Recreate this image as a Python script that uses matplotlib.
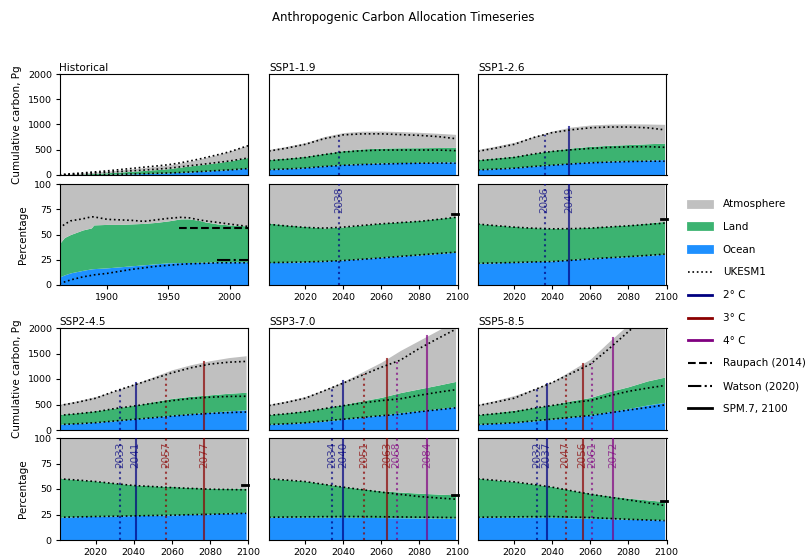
import numpy as np
import matplotlib
matplotlib.use('Agg')
import matplotlib.pyplot as plt
from matplotlib.lines import Line2D
from matplotlib.patches import Patch

#####################################################################################################
# colours
atmos_color = 'silver'
land_color = 'mediumseagreen'
ocean_color = 'dodgerblue'
warming_colors = {2: 'navy', 3: 'darkred', 4: 'purple'}
marker_alpha = 0.7

# HISTORICAL (cumulative total in Pg, shares in percent; "sink" = ocean + land)
hist_years = [1861, 1865, 1870, 1880, 1887, 1889, 1900, 1910, 1920, 1930, 1940, 1950,
              1960, 1967, 1975, 1980, 1990, 2000, 2015]
hist_total = [4, 12, 22, 38, 50, 54, 75, 98, 122, 148, 172, 198,
              240, 272, 315, 345, 405, 470, 595]
hist_ocean_pct = [8, 10, 12, 14.5, 16, 16.2, 17, 18, 19, 20, 21, 22,
                  22.2, 22.3, 22.5, 22.6, 23, 23, 23]
hist_sink_pct = [41, 47, 50, 54.5, 56.5, 59.5, 60, 60, 60.5, 61, 62, 63.5,
                 65.5, 65.5, 64, 62.5, 60.5, 59.5, 58.5]
hist_ukesm_total = [4, 13, 24, 42, 56, 60, 82, 106, 130, 155, 178, 203,
                    242, 275, 315, 343, 400, 460, 580]
hist_ukesm_ocean_pct = [1.7, 3, 5, 8, 9.5, 10, 11.5, 13.5, 15.5, 17, 18.5, 19.5,
                        20.5, 21, 21.3, 21.5, 22, 22, 22]
hist_ukesm_sink_pct = [56, 60, 63.5, 65.5, 67.5, 67.5, 65, 64.5, 64, 63, 64.5, 66,
                       67, 66.5, 64.5, 63.5, 62, 60.3, 58]

raupach_pct = 56.3
raupach_span = [1959, 2015]
watson_pct = 24.8
watson_span = [1990, 2015]

# SCENARIOS
ssp_names = ['SSP1-1.9', 'SSP1-2.6', 'SSP2-4.5', 'SSP3-7.0', 'SSP5-8.5']
ssp_years = [2001, 2010, 2020, 2030, 2040, 2050, 2060, 2070, 2080, 2090, 2099]

ssp_total = {
    'SSP1-1.9': [505, 565, 640, 760, 840, 868, 870, 860, 845, 825, 805],
    'SSP1-2.6': [505, 570, 647, 760, 870, 950, 990, 1008, 1012, 1010, 1003],
    'SSP2-4.5': [505, 570, 656, 770, 900, 1040, 1180, 1280, 1358, 1420, 1456],
    'SSP3-7.0': [505, 570, 656, 790, 951, 1140, 1330, 1560, 1760, 1960, 2150],
    'SSP5-8.5': [505, 580, 676, 800, 950, 1170, 1390, 1740, 2070, 2450, 2750],
}
ssp_ocean_pct = {
    'SSP1-1.9': [22.2, 22.5, 23, 23.8, 24.8, 26, 27.5, 28.7, 29.8, 31.2, 32.5],
    'SSP1-2.6': [21.5, 22, 22.5, 23.2, 23.8, 25.2, 26.5, 27.3, 28.1, 29.3, 30.5],
    'SSP2-4.5': [22.3, 22.8, 23.2, 23.5, 23.9, 24.2, 24.6, 25.1, 25.6, 26.4, 27.2],
    'SSP3-7.0': [22.3, 22.3, 22.3, 22.3, 22.3, 22.2, 22, 21.8, 21.6, 21.4, 21.3],
    'SSP5-8.5': [22.3, 22.3, 22.3, 22.3, 22.3, 21.8, 21.3, 20.8, 20.3, 20, 19.7],
}
ssp_sink_pct = {
    'SSP1-1.9': [61.3, 59.5, 58, 56.5, 57.5, 59.5, 61.3, 62.7, 64, 66, 68],
    'SSP1-2.6': [61, 59.5, 58, 56.8, 56.3, 56.3, 57.3, 58.4, 59.6, 61.3, 63],
    'SSP2-4.5': [60.7, 59.3, 58, 56, 54, 53.2, 52.5, 51.6, 50.8, 50.8, 50.8],
    'SSP3-7.0': [60.7, 59.3, 58, 55.3, 52.5, 50.3, 48.2, 47, 45.9, 45, 44.3],
    'SSP5-8.5': [60.7, 59, 57.4, 55, 52.5, 49, 45.9, 43.3, 41, 39.3, 37.7],
}
ukesm_total = {
    'SSP1-1.9': [475, 530, 607, 720, 795, 815, 815, 800, 785, 760, 720],
    'SSP1-2.6': [470, 530, 607, 740, 840, 895, 935, 950, 950, 935, 895],
    'SSP2-4.5': [479, 540, 623, 760, 880, 1000, 1120, 1220, 1292, 1330, 1345],
    'SSP3-7.0': [479, 540, 623, 770, 920, 1075, 1230, 1370, 1600, 1800, 1975],
    'SSP5-8.5': [479, 545, 623, 780, 930, 1110, 1290, 1600, 1930, 2250, 2580],
}
ukesm_ocean_pct = {
    'SSP1-1.9': [22.2, 22.4, 22.8, 23.4, 24.2, 25.5, 26.8, 28.3, 29.8, 31.2, 32.5],
    'SSP1-2.6': [21.5, 21.8, 22.3, 22.8, 23.2, 24.5, 25.8, 27, 28.1, 29.3, 30.5],
    'SSP2-4.5': [22.3, 22.6, 23, 23.3, 23.6, 24, 24.3, 24.8, 25.2, 25.7, 26.2],
    'SSP3-7.0': [22.3, 22.5, 22.7, 22.9, 23, 23, 22.8, 22.6, 22.4, 22.2, 22],
    'SSP5-8.5': [22.3, 22.5, 22.7, 22.9, 23, 22.5, 22, 21.1, 20.3, 19.6, 19],
}
ukesm_sink_pct = {
    'SSP1-1.9': [60, 58.5, 57, 56.3, 57.3, 59, 60.6, 61.8, 63, 65, 67],
    'SSP1-2.6': [60.3, 58.8, 57.3, 56.2, 55.6, 55.8, 56.3, 57.5, 58.6, 60, 61.3],
    'SSP2-4.5': [60, 58.8, 57.3, 55.3, 53.4, 52.4, 51.4, 50.6, 49.8, 49.5, 49.2],
    'SSP3-7.0': [60, 58.8, 57.3, 54.5, 51.8, 49.3, 46.9, 44.7, 42.6, 41.2, 40],
    'SSP5-8.5': [60, 58.5, 57, 54.5, 51.8, 48.3, 44.9, 42, 39.3, 36.5, 33.8],
}

# year each warming level is reached (None = not reached), ensemble fill vs UKESM1
fill_years = {
    2: [None, 2049, 2041, 2040, 2037],
    3: [None, None, 2077, 2063, 2056],
    4: [None, None, None, 2084, 2072],
}
ukesm_years = {
    2: [2038, 2036, 2033, 2034, 2032],
    3: [None, None, 2057, 2051, 2047],
    4: [None, None, None, 2068, 2061],
}
spm7_pct = [70, 65, 54, 44, 38]

#####################################################################################################

W, H = 807, 557
col_left = [59.5, 269, 478]
col_width = 188.5
row_span = [(74, 175), (184, 285), (328, 430), (438, 540)]

tick_size = 6.8
label_size = 7.5


def make_ax(fig, col, row):
    top, bottom = row_span[row]
    return fig.add_axes([col_left[col] / W, 1 - bottom / H, col_width / W, (bottom - top) / H])


def stack_on_axes(ax_cum, ax_pct, years, total, ocean_pct, sink_pct, u_total, u_ocean_pct, u_sink_pct):
    years = np.array(years)
    total = np.array(total, dtype=float)
    ocean_pct = np.array(ocean_pct, dtype=float)
    sink_pct = np.array(sink_pct, dtype=float)
    u_total = np.array(u_total, dtype=float)
    u_ocean_pct = np.array(u_ocean_pct, dtype=float)
    u_sink_pct = np.array(u_sink_pct, dtype=float)

    ocean = total * ocean_pct / 100
    sink = total * sink_pct / 100
    ax_cum.fill_between(years, 0, ocean, color=ocean_color, linewidth=0)
    ax_cum.fill_between(years, ocean, sink, color=land_color, linewidth=0)
    ax_cum.fill_between(years, sink, total, color=atmos_color, linewidth=0)

    ax_pct.fill_between(years, 0, ocean_pct, color=ocean_color, linewidth=0)
    ax_pct.fill_between(years, ocean_pct, sink_pct, color=land_color, linewidth=0)
    ax_pct.fill_between(years, sink_pct, 100, color=atmos_color, linewidth=0)

    return years, total, u_total, u_ocean_pct, u_sink_pct


def ukesm_on_axes(ax_cum, ax_pct, years, u_total, u_ocean_pct, u_sink_pct):
    for y in [u_total * u_ocean_pct / 100, u_total * u_sink_pct / 100, u_total]:
        ax_cum.plot(years, y, color='k', linestyle=':', linewidth=1.2, zorder=4)
    for y in [u_ocean_pct, u_sink_pct]:
        ax_pct.plot(years, y, color='k', linestyle=':', linewidth=1.2, zorder=4)


def format_axes(ax_cum, ax_pct, col, xlim, xticks):
    ax_cum.set_ylim(0, 2000)
    ax_pct.set_ylim(0, 100)
    for ax in (ax_cum, ax_pct):
        ax.set_xlim(*xlim)
        ax.tick_params(labelsize=tick_size, length=3, pad=2.5)
    ax_cum.set_xticks([])
    ax_pct.set_xticks(xticks)
    if col == 0:
        ax_cum.set_yticks([0, 500, 1000, 1500, 2000])
        ax_pct.set_yticks([0, 25, 50, 75, 100])
        ax_cum.set_ylabel('Cumulative carbon, Pg', fontsize=label_size)
        ax_pct.set_ylabel('Percentage', fontsize=label_size)
    else:
        ax_cum.set_yticks([])
        ax_pct.set_yticks([])


fig = plt.figure(figsize=(W / 100, H / 100), dpi=100)
fig.text(0.5, 1 - 18 / H, 'Anthropogenic Carbon Allocation Timeseries', ha='center', va='center', fontsize=8.5)

# panel grid: (name, column, first row)
panel_pos = [('Historical', 0, 0), ('SSP1-1.9', 1, 0), ('SSP1-2.6', 2, 0),
             ('SSP2-4.5', 0, 2), ('SSP3-7.0', 1, 2), ('SSP5-8.5', 2, 2)]

for name, col, row in panel_pos:
    ax_cum = make_ax(fig, col, row)
    ax_pct = make_ax(fig, col, row + 1)
    ax_cum.set_title(name, loc='left', fontsize=label_size, pad=2)

    if name == 'Historical':
        years, total, u_total, u_op, u_sp = stack_on_axes(
            ax_cum, ax_pct, hist_years, hist_total, hist_ocean_pct, hist_sink_pct,
            hist_ukesm_total, hist_ukesm_ocean_pct, hist_ukesm_sink_pct)
        ukesm_on_axes(ax_cum, ax_pct, years, u_total, u_op, u_sp)
        ax_pct.plot(raupach_span, [raupach_pct] * 2, color='k', linestyle='--', linewidth=1.5, zorder=5)
        ax_pct.plot(watson_span, [watson_pct] * 2, color='k', linestyle='-.', linewidth=1.5, zorder=5)
        format_axes(ax_cum, ax_pct, col, (1861, 2015), [1900, 1950, 2000])
        continue

    i = ssp_names.index(name)
    years, total, u_total, u_op, u_sp = stack_on_axes(
        ax_cum, ax_pct, ssp_years, ssp_total[name], ssp_ocean_pct[name], ssp_sink_pct[name],
        ukesm_total[name], ukesm_ocean_pct[name], ukesm_sink_pct[name])

    # warming level crossings
    for level in [2, 3, 4]:
        for yr, ls, tot in [(ukesm_years[level][i], ':', u_total), (fill_years[level][i], '-', total)]:
            if yr is None:
                continue
            c = warming_colors[level]
            top = np.interp(yr, years, tot)
            ax_cum.plot([yr, yr], [0, top], color=c, linestyle=ls, linewidth=1.5, alpha=marker_alpha, zorder=3)
            ax_pct.axvline(yr, color=c, linestyle=ls, linewidth=1.5, alpha=marker_alpha, zorder=3)
            ax_pct.text(yr, 71, str(yr), rotation=90, ha='center', va='bottom', color=c,
                        alpha=marker_alpha, fontsize=label_size, zorder=6)

    ukesm_on_axes(ax_cum, ax_pct, years, u_total, u_op, u_sp)
    ax_pct.plot([2097, 2100], [spm7_pct[i]] * 2, color='k', linewidth=2, zorder=6, clip_on=False)
    format_axes(ax_cum, ax_pct, col, (2001, 2100), [2020, 2040, 2060, 2080, 2100])

# LEGEND
handles = [
    Patch(facecolor=atmos_color, edgecolor=atmos_color, linewidth=2, label='Atmosphere'),
    Patch(facecolor=land_color, edgecolor=land_color, linewidth=2, label='Land'),
    Patch(facecolor=ocean_color, edgecolor=ocean_color, linewidth=2, label='Ocean'),
    Line2D([], [], color='k', linestyle=':', linewidth=1.2, label='UKESM1'),
    Line2D([], [], color=warming_colors[2], linewidth=2, label='2° C'),
    Line2D([], [], color=warming_colors[3], linewidth=2, label='3° C'),
    Line2D([], [], color=warming_colors[4], linewidth=2, label='4° C'),
    Line2D([], [], color='k', linestyle='--', linewidth=1.5, label='Raupach (2014)'),
    Line2D([], [], color='k', linestyle='-.', linewidth=1.5, label='Watson (2020)'),
    Line2D([], [], color='k', linewidth=2, label='SPM.7, 2100'),
]
fig.legend(handles=handles, loc='upper left', bbox_to_anchor=(679 / W, 1 - 190 / H), frameon=False,
           fontsize=label_size, labelspacing=1.22, handlelength=2.3, handleheight=0.5, handletextpad=1.0)

fig.savefig('out.png', dpi=100)
